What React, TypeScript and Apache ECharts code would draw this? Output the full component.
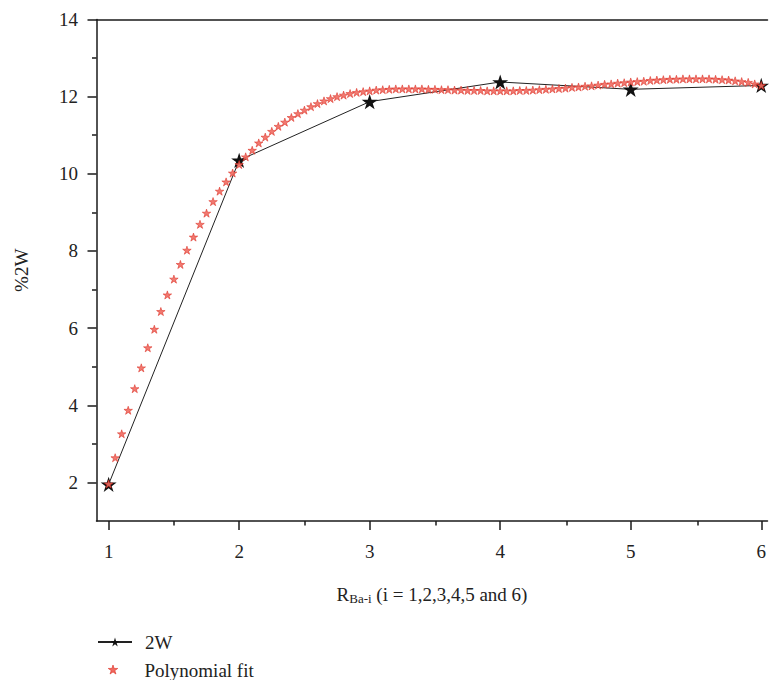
import React, { useEffect, useRef } from "react";
import * as echarts from "echarts";

const xValues = [1, 2, 3, 4, 5, 6];
const w2Values = [1.95, 10.35, 11.87, 12.38, 12.19, 12.29];

const fitX = [
  1.0, 1.05, 1.1, 1.15, 1.2, 1.25, 1.3, 1.35, 1.4, 1.45,
  1.5, 1.55, 1.6, 1.65, 1.7, 1.75, 1.8, 1.85, 1.9, 1.95,
  2.0, 2.05, 2.1, 2.15, 2.2, 2.25, 2.3, 2.35, 2.4, 2.45,
  2.5, 2.55, 2.6, 2.65, 2.7, 2.75, 2.8, 2.85, 2.9, 2.95,
  3.0, 3.05, 3.1, 3.15, 3.2, 3.25, 3.3, 3.35, 3.4, 3.45,
  3.5, 3.55, 3.6, 3.65, 3.7, 3.75, 3.8, 3.85, 3.9, 3.95,
  4.0, 4.05, 4.1, 4.15, 4.2, 4.25, 4.3, 4.35, 4.4, 4.45,
  4.5, 4.55, 4.6, 4.65, 4.7, 4.75, 4.8, 4.85, 4.9, 4.95,
  5.0, 5.05, 5.1, 5.15, 5.2, 5.25, 5.3, 5.35, 5.4, 5.45,
  5.5, 5.55, 5.6, 5.65, 5.7, 5.75, 5.8, 5.85, 5.9, 5.95,
  6.0,
];
const fitY = [
  1.96, 2.64, 3.26, 3.87, 4.43, 4.97, 5.49, 5.97, 6.43, 6.86,
  7.27, 7.65, 8.02, 8.36, 8.69, 8.98, 9.28, 9.55, 9.79, 10.02,
  10.24, 10.44, 10.61, 10.8, 10.95, 11.1, 11.23, 11.34, 11.46, 11.56,
  11.65, 11.74, 11.82, 11.89, 11.95, 12.0, 12.04, 12.08, 12.11, 12.13,
  12.15, 12.17, 12.18, 12.19, 12.2, 12.2, 12.2, 12.2, 12.2, 12.19,
  12.19, 12.18, 12.18, 12.17, 12.17, 12.16, 12.16, 12.16, 12.15, 12.15,
  12.15, 12.15, 12.15, 12.16, 12.16, 12.17, 12.18, 12.19, 12.2, 12.21,
  12.22, 12.24, 12.25, 12.27, 12.28, 12.3, 12.32, 12.33, 12.35, 12.36,
  12.38, 12.39, 12.4, 12.42, 12.43, 12.44, 12.45, 12.45, 12.46, 12.46,
  12.46, 12.46, 12.46, 12.45, 12.44, 12.43, 12.41, 12.39, 12.37, 12.33,
  12.29,
];

const xTickLabels = [1, 2, 3, 4, 5, 6];
const xMinorTicks = [1.5, 2.5, 3.5, 4.5, 5.5];
const yTickLabels = [2, 4, 6, 8, 10, 12, 14];
const yMinorTicks = [3, 5, 7, 9, 11, 13];

const STAR =
  "path://M12,0L14.69,8.29L23.41,8.29L16.36,13.42L19.05,21.71L12,16.58L4.95,21.71L7.64,13.42L0.59,8.29L9.31,8.29Z";

const FONT = "'Liberation Serif', 'DejaVu Serif', serif";
const AXIS_COLOR = "#1a1a1a";
const FIT_FILL = "#f06a60";
const FIT_STROKE = "#dc2b20";
const XMIN = 0.907;
const XMAX = 6.048;

export default function App() {
  const ref = useRef<HTMLDivElement>(null);

  useEffect(() => {
    document.body.style.margin = "0";
    if (!ref.current) return;
    const chart = echarts.init(ref.current, undefined, { renderer: "svg" });
    const gridBox = { left: 96.5, right: 0, top: 19.5, bottom: 159 };
    const labelStyle = { fontSize: 19, fontFamily: FONT, color: "#222" };
    chart.setOption({
      animation: false,
      backgroundColor: "#ffffff",
      grid: [{ ...gridBox }, { ...gridBox }],
      legend: [
        {
          orient: "vertical",
          left: 97,
          top: 632,
          padding: 0,
          itemWidth: 34,
          itemHeight: 11,
          textStyle: { ...labelStyle, lineHeight: 20, padding: [0, 0, 0, 8] },
          data: ["2W"],
        },
        {
          orient: "vertical",
          left: 108.5,
          top: 660,
          padding: 0,
          itemWidth: 10,
          itemHeight: 9,
          textStyle: { ...labelStyle, lineHeight: 20, padding: [0, 0, 0, 21] },
          data: [
            {
              name: "Polynomial fit",
              icon: "rect",
              itemStyle: { color: "rgba(0,0,0,0)", borderWidth: 0, opacity: 0 },
            },
          ],
        },
      ],
      graphic: [
        {
          type: "polygon",
          shape: {
            points: [
              [113, 665],
              [114.12, 668.45],
              [117.76, 668.45],
              [114.82, 670.59],
              [115.94, 674.05],
              [113, 671.91],
              [110.06, 674.05],
              [111.18, 670.59],
              [108.24, 668.45],
              [111.88, 668.45],
            ],
          },
          style: { fill: FIT_FILL, stroke: FIT_STROKE, lineWidth: 0.6 },
          silent: true,
        },
      ],
      xAxis: [
        {
          gridIndex: 0,
          type: "value",
          min: XMIN,
          max: XMAX,
          position: "bottom",
          axisLine: { show: true, lineStyle: { color: AXIS_COLOR, width: 1.5 } },
          axisTick: {
            show: true,
            customValues: xTickLabels,
            length: 9,
            lineStyle: { color: AXIS_COLOR, width: 1.5 },
          },
          axisLabel: { customValues: xTickLabels, margin: 21, ...labelStyle },
          splitLine: { show: false },
          name: "{r|R}{s|Ba-i}{r| (i = 1,2,3,4,5 and 6)}",
          nameLocation: "middle",
          nameGap: 62,
          nameTextStyle: {
            rich: {
              r: { fontSize: 19, fontFamily: FONT, color: "#222" },
              s: { fontSize: 13, fontFamily: FONT, color: "#222", padding: [9, 0, 0, 0] },
            },
          },
        },
        {
          gridIndex: 0,
          type: "value",
          min: XMIN,
          max: XMAX,
          position: "top",
          axisLine: { show: true, lineStyle: { color: AXIS_COLOR, width: 1.5 } },
          axisTick: { show: false },
          axisLabel: { show: false },
          splitLine: { show: false },
        },
        {
          gridIndex: 1,
          type: "value",
          min: XMIN,
          max: XMAX,
          position: "bottom",
          axisLine: { show: false },
          axisTick: {
            show: true,
            customValues: xMinorTicks,
            length: 4.5,
            lineStyle: { color: AXIS_COLOR, width: 1.5 },
          },
          axisLabel: { show: false },
          splitLine: { show: false },
        },
      ],
      yAxis: [
        {
          gridIndex: 0,
          type: "value",
          min: 1,
          max: 14,
          axisLine: { show: true, lineStyle: { color: AXIS_COLOR, width: 1.5 } },
          axisTick: {
            show: true,
            customValues: yTickLabels,
            length: 9,
            lineStyle: { color: AXIS_COLOR, width: 1.5 },
          },
          axisLabel: { customValues: yTickLabels, margin: 18.5, ...labelStyle },
          splitLine: { show: false },
          name: "%2W",
          nameLocation: "middle",
          nameGap: 66,
          nameRotate: 90,
          nameTextStyle: { ...labelStyle },
        },
        {
          gridIndex: 1,
          type: "value",
          min: 1,
          max: 14,
          axisLine: { show: false },
          axisTick: {
            show: true,
            customValues: yMinorTicks,
            length: 4.5,
            lineStyle: { color: AXIS_COLOR, width: 1.5 },
          },
          axisLabel: { show: false },
          splitLine: { show: false },
        },
      ],
      series: [
        {
          name: "2W",
          type: "line",
          xAxisIndex: 0,
          yAxisIndex: 0,
          data: xValues.map((x, i) => [x, w2Values[i]]),
          symbol: STAR,
          symbolKeepAspect: true,
          symbolSize: 16,
          showAllSymbol: true,
          itemStyle: { color: "#111" },
          lineStyle: { color: "#222", width: 1 },
          z: 2,
        },
        {
          name: "Polynomial fit",
          type: "scatter",
          xAxisIndex: 0,
          yAxisIndex: 0,
          data: fitX.map((x, i) => [x, fitY[i]]),
          symbol: STAR,
          symbolKeepAspect: true,
          symbolSize: 8.5,
          itemStyle: {
            color: FIT_FILL,
            borderColor: FIT_STROKE,
            borderWidth: 0.6,
            opacity: 0.9,
          },
          z: 3,
        },
      ],
    });
    return () => chart.dispose();
  }, []);

  return <div ref={ref} style={{ width: 769, height: 680 }} />;
}
